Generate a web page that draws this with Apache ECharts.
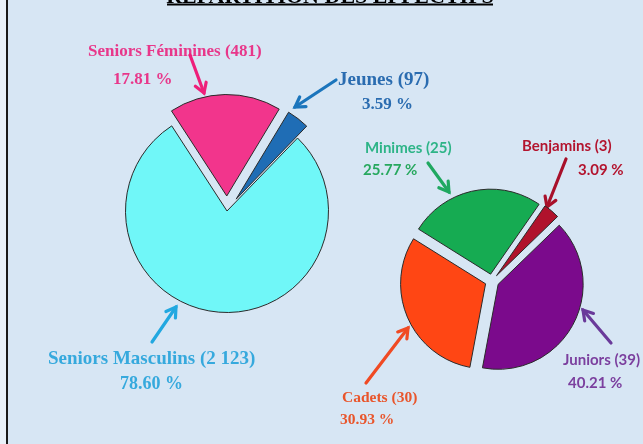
<!DOCTYPE html>
<html>
<head>
<meta charset="utf-8">
<script src="https://cdn.jsdelivr.net/npm/echarts@6/dist/echarts.min.js"></script>
<style>
html,body{margin:0;padding:0;background:#d7e6f4;}
#c{width:643px;height:444px;}
</style>
</head>
<body>
<div id="c"></div>
<script>
// ---- data ----
const titleText = 'RÉPARTITION DES EFFECTIFS';
const leftNames = ['Seniors Féminines', 'Jeunes', 'Seniors Masculins'];
const leftValues = [481, 97, 2123];
const rightNames = ['Minimes', 'Benjamins', 'Juniors', 'Cadets'];
const rightValues = [25, 3, 39, 30];

// ---- styles ----
const leftColors = ['#f2358c', '#1f6db5', '#70f7f8'];
const rightColors = ['#16ab52', '#b0122c', '#7b0a8c', '#ff4614'];
const SERIF = '"Liberation Serif","DejaVu Serif",serif';
const SANS = 'Lato,"Open Sans",sans-serif';

function fmtNum(v){ return String(v).replace(/\B(?=(\d{3})+(?!\d))/g, ' '); }
function pct(values, i){ const s = values.reduce((a,b)=>a+b,0); return (values[i]/s*100).toFixed(2) + ' %'; }

// label + arrow layout (annotations)
const leftLayout = [
  {name:[88,52], pc:[113,80], font:'bold 17px '+SERIF, color:'#e8378a', arrow:[190,55,204,93], ac:'#ee1f7a'},
  {name:[338,80], pc:[362,105], font:'bold 19px '+SERIF, pcFont:'bold 17px '+SERIF, color:'#2a6cb0', arrow:[336,80,295,107], ac:'#1b75bc'},
  {name:[48,359], pc:[120,384], font:'bold 19px '+SERIF, pcFont:'bold 18px '+SERIF, color:'#36a9dd', arrow:[152,342,176,307], ac:'#22a8e0'}
];
const rightLayout = [
  {name:[365,148], pc:[363,170], font:'bold 15px '+SANS, color:'#2db487', pcColor:'#27a85e', arrow:[428,163,449,192], ac:'#1fa860'},
  {name:[522,146], pc:[578,170], font:'bold 15px '+SANS, color:'#b3142e', arrow:[566,159,547,207], ac:'#a8102a'},
  {name:[563,360], pc:[568,383], font:'bold 15px '+SANS, color:'#7b3f9e', arrow:[611,343,583,310], ac:'#6a3a9a'},
  {name:[342,398], pc:[340,420], font:'bold 15.5px '+SERIF, color:'#e9552b', arrow:[366,383,408,328], ac:'#f04a23'}
];

function arrow(x1,y1,x2,y2,color){
  const a = Math.atan2(y2-y1, x2-x1), hl = 11, sp = 0.55;
  return {type:'group', children:[
    {type:'line', shape:{x1:x1,y1:y1,x2:x2,y2:y2}, style:{stroke:color, lineWidth:3.2, lineCap:'round'}},
    {type:'polyline', shape:{points:[
      [x2 - hl*Math.cos(a-sp), y2 - hl*Math.sin(a-sp)], [x2,y2],
      [x2 - hl*Math.cos(a+sp), y2 - hl*Math.sin(a+sp)]]},
      style:{stroke:color, lineWidth:3.2, fill:null, lineJoin:'miter', lineCap:'round'}}
  ]};
}
function texts(names, values, layout){
  const out = [];
  names.forEach((n,i)=>{
    const L = layout[i];
    out.push({type:'text', style:{text: n + ' (' + fmtNum(values[i]) + ')', x:L.name[0], y:L.name[1], textVerticalAlign:'middle', font:L.font, fill:L.color}});
    out.push({type:'text', style:{text: pct(values,i), x:L.pc[0], y:L.pc[1], textVerticalAlign:'middle', font:L.pcFont||L.font, fill:L.pcColor||L.color}});
    out.push(arrow.apply(null, L.arrow.concat([L.ac])));
  });
  return out;
}

const chart = echarts.init(document.getElementById('c'), null, {renderer:'canvas'});
const graphics = [
  {type:'rect', shape:{x:0,y:0,width:6,height:444}, style:{fill:'#e9f1f9'}},
  {type:'line', shape:{x1:7,y1:0,x2:7,y2:444}, style:{stroke:'#1a1a1a', lineWidth:2}},
  {type:'text', style:{text:titleText, x:330, y:8, textAlign:'center', textVerticalAlign:'bottom', font:'bold 22px '+SERIF, fill:'#000'}},
  {type:'line', shape:{x1:167,y1:4.5,x2:493,y2:4.5}, style:{stroke:'#000', lineWidth:2}}
].concat(texts(leftNames,leftValues,leftLayout), texts(rightNames,rightValues,rightLayout));

chart.setOption({
  backgroundColor:'#d7e6f4',
  animation:false,
  series:[
    {type:'pie', center:[227,211], radius:101.5, startAngle:123, clockwise:true,
     selectedMode:'multiple', selectedOffset:15, silent:true,
     label:{show:false}, labelLine:{show:false},
     itemStyle:{borderColor:'#2b2b2b', borderWidth:1},
     data: leftNames.map((n,i)=>({name:n, value:leftValues[i], selected: i<2, itemStyle:{color:leftColors[i]}}))},
    {type:'pie', center:[492,281], radius:85, startAngle:148, clockwise:true,
     selectedMode:'multiple', selectedOffset:7, silent:true,
     label:{show:false}, labelLine:{show:false},
     itemStyle:{borderColor:'#2b2b2b', borderWidth:1},
     data: rightNames.map((n,i)=>({name:n, value:rightValues[i], selected:true, itemStyle:{color:rightColors[i]}}))}
  ],
  graphic: graphics
});
</script>
</body>
</html>
